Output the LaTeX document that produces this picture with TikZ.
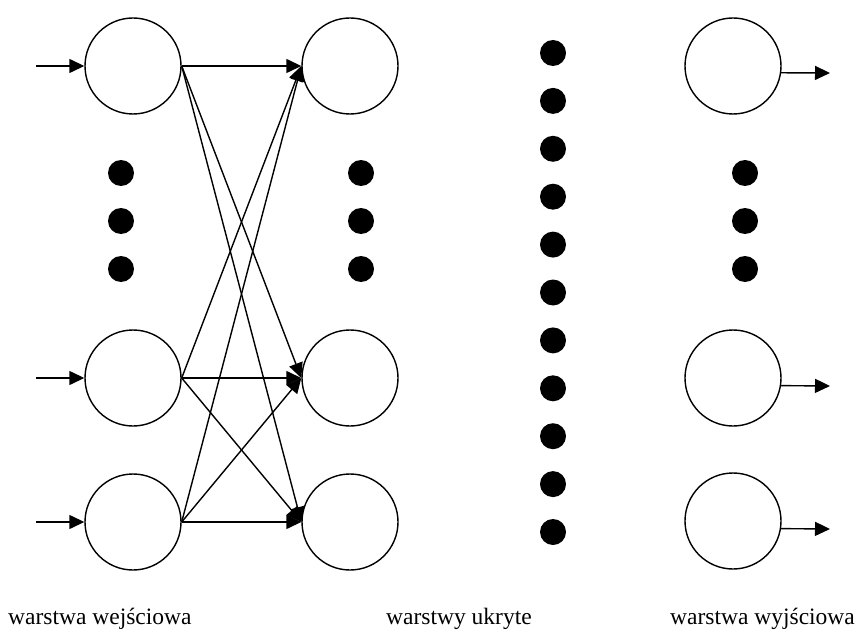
\documentclass[tikz,border=0pt]{standalone}
\usepackage{fontspec}
\setmainfont{Liberation Serif}
\usetikzlibrary{arrows.meta}
\begin{document}
\begin{tikzpicture}[x=1pt,y=-1pt,
  neuron/.style={circle,draw,line width=1.4pt,minimum size=96pt,inner sep=0pt},
  blob/.style={circle,fill=black,minimum size=26pt,inner sep=0pt},
  conn/.style={line width=1.4pt,-{Triangle[length=15pt,width=14pt]}},
  lbl/.style={anchor=base west,inner sep=0pt,font=\fontsize{23.5}{28}\selectfont}]
\useasboundingbox (0,0) rectangle (859,631);
% input layer
\node[neuron] (i1) at (133,66) {};
\node[neuron] (i2) at (133,378) {};
\node[neuron] (i3) at (133,522) {};
% hidden layer
\node[neuron] (h1) at (350,66) {};
\node[neuron] (h2) at (350,378) {};
\node[neuron] (h3) at (350,522) {};
% output layer
\node[neuron] (o1) at (733,66) {};
\node[neuron] (o2) at (733,378) {};
\node[neuron] (o3) at (733,521) {};
% dots
\foreach \y [count=\k] in {173,221,269}{
  \node[blob] (di\k) at (121,\y) {};
  \node[blob] (dh\k) at (361,\y) {};
  \node[blob] (do\k) at (745,\y) {};
}
\foreach \k in {0,...,10}{
  \node[blob] (dm\k) at (553,53+47.9*\k) {};
}
% inputs
\coordinate (a1) at (36,66);
\coordinate (a2) at (36,378);
\coordinate (a3) at (36,522);
\draw[conn] (a1) -- (i1.west);
\draw[conn] (a2) -- (i2.west);
\draw[conn] (a3) -- (i3.west);
% connections
\foreach \s in {i1,i2,i3}{
  \foreach \t in {h1,h2,h3}{
    \draw[conn] (\s.east) -- (\t.west);
  }
}
% outputs
\coordinate (b1) at (830,73);
\coordinate (b2) at (830,386);
\coordinate (b3) at (830,529);
\draw[conn] (o1.-8.4) -- (b1);
\draw[conn] (o2.-9.6) -- (b2);
\draw[conn] (o3.-9.6) -- (b3);
% labels
\node[lbl] (l1) at (8,624) {warstwa wejściowa};
\node[lbl] (l2) at (386,624) {warstwy ukryte};
\node[lbl] (l3) at (670,624) {warstwa wyjściowa};
\end{tikzpicture}
\end{document}
